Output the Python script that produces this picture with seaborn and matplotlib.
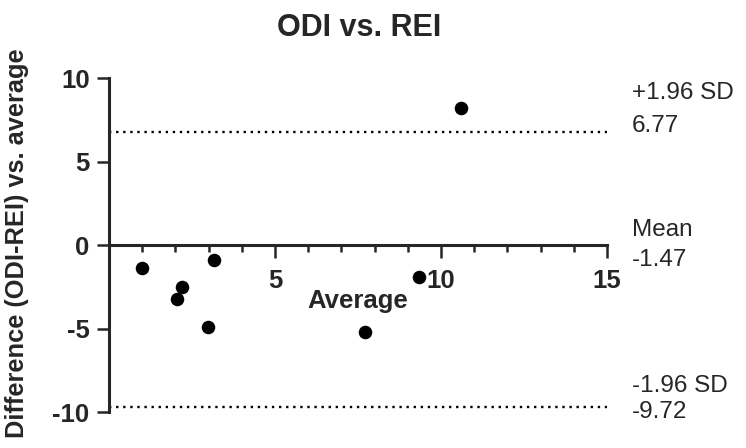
import matplotlib
matplotlib.use("Agg")
import matplotlib.pyplot as plt
import seaborn as sns
import pandas as pd
from matplotlib.ticker import MultipleLocator

# Data
average = [1.0, 2.2, 2.05, 2.97, 3.16, 7.72, 9.35, 10.6]
difference = [-1.4, -2.5, -3.25, -4.9, -0.9, -5.2, -1.93, 8.2]
upper_loa = 6.77
mean_diff = -1.47
lower_loa = -9.72
title = "ODI vs. REI"
xlabel = "Average"
ylabel = "Difference (ODI-REI) vs. average"

sns.set_style("ticks")
plt.rcParams['font.family'] = ['Liberation Sans', 'DejaVu Sans']
plt.rcParams['axes.unicode_minus'] = False

fig = plt.figure(figsize=(7.46, 4.48), dpi=100)
ax = fig.add_axes([109/746, 0.0058, 498/746, 0.876])

df = pd.DataFrame({"avg": average, "diff": difference})
sns.scatterplot(data=df, x="avg", y="diff", ax=ax, color="black", s=95,
                edgecolor="black", linewidth=0, zorder=5, clip_on=False)

for v in (upper_loa, lower_loa):
    ax.hlines(v, 0, 15, colors="black", linestyles=(0, (1, 2.0)), linewidth=1.7)

ax.set_xlim(0, 15)
ax.set_ylim(-12, 11.5)

# spines
for s in ("top", "right"):
    ax.spines[s].set_visible(False)
ax.spines["left"].set_bounds(-10, 10)
ax.spines["left"].set_linewidth(2.2)
ax.spines["bottom"].set_position(("data", 0))
ax.spines["bottom"].set_bounds(0, 15)
ax.spines["bottom"].set_linewidth(2.2)

ax.xaxis.set_minor_locator(MultipleLocator(1))
ax.set_yticks([-10, -5, 0, 5, 10])
ax.set_xticks([5, 10, 15])
ax.tick_params(axis="x", which="major", direction="out", length=9.4, width=1.8,
               pad=8, labelsize=18.5)
ax.tick_params(axis="x", which="minor", direction="out", length=5, width=1.8)
ax.tick_params(axis="y", which="major", direction="out", length=9, width=1.8,
               pad=5, labelsize=18.5)
for lab in ax.get_xticklabels() + ax.get_yticklabels():
    lab.set_fontweight("bold")

ax.set_xlabel(xlabel, fontsize=18.5, fontweight="bold")
ax.xaxis.set_label_coords(0.5, 0.398)
ax.set_ylabel("")

fig.text(359/746, 1 - 28/448, title, ha="center", va="center",
         fontsize=22, fontweight="bold")
fig.text(17/746, 1 - 243/448, ylabel, ha="center", va="center",
         rotation=90, fontsize=18.3, fontweight="bold")

# right-side annotations
tx = 15.75
labels = [("+1.96 SD", 9.1), (f"{upper_loa:.2f}", 7.13),
          ("Mean", 0.9), (f"{mean_diff:.2f}", -0.9),
          ("-1.96 SD", -8.45), (f"{lower_loa:.2f}", -10.0)]
for t, y in labels:
    ax.text(tx, y, t, ha="left", va="center", fontsize=17.5, clip_on=False)

fig.savefig("out.png", dpi=100)
